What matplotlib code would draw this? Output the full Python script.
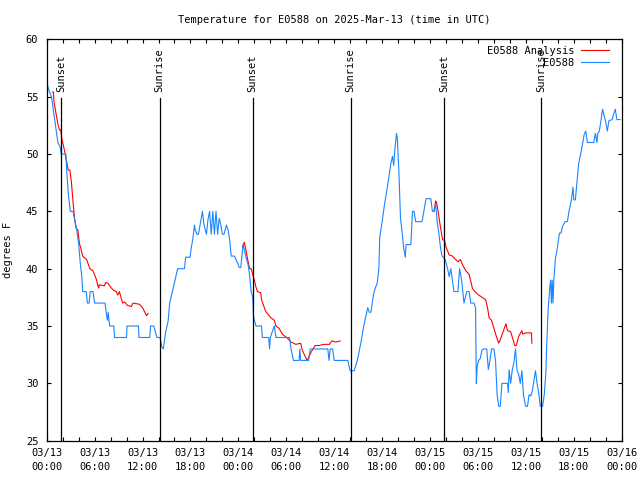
import numpy as np
import matplotlib
matplotlib.use("Agg")
import matplotlib.pyplot as plt
import matplotlib.transforms as mtransforms
from matplotlib.ticker import MultipleLocator

# hours since 2025-03-13 00:00 UTC
blue_h = [0.1, 0.3, 0.6, 0.8, 1.0, 1.2, 1.4, 1.7, 1.8, 2.4, 2.5, 2.7, 2.95, 3.3, 3.5, 3.75,
          4.0, 4.2, 4.4, 4.5, 4.95, 5.1, 5.3, 5.45, 5.8, 6.0, 7.3, 7.45, 7.6, 7.7, 7.8, 7.9,
          8.4, 8.5, 10.0, 10.05, 11.5, 11.55, 12.9, 13.0, 13.4, 13.6, 13.8, 14.2, 14.4, 14.6,
          14.9, 15.2, 15.4, 15.8, 16.1, 16.4, 17.25, 17.4, 17.95, 18.1, 18.3, 18.5, 18.6, 18.8,
          19.0, 19.2, 19.5, 19.7, 20.0, 20.2, 20.4, 20.6, 20.8, 21.0, 21.2, 21.4, 21.6, 21.8,
          22.0, 22.2, 22.5, 22.7, 22.9, 23.1, 23.5, 23.7, 23.9, 24.1, 24.3, 24.5, 24.6, 24.95,
          25.2, 25.4, 25.6, 25.8, 25.9, 26.2, 26.9, 27.0, 27.8, 27.9, 28.0, 28.3, 28.5, 28.7,
          30.4, 30.6, 30.9, 31.6, 31.7, 31.8, 32.8, 33.0, 35.2, 35.35, 35.5, 35.8, 36.0, 37.7,
          38.0, 38.5, 38.9, 39.3, 39.7, 40.2, 40.4, 40.6, 40.8, 41.0, 41.4, 41.6, 41.7, 42.0,
          42.3, 42.7, 43.1, 43.3, 43.45, 43.6, 43.8, 43.9, 44.1, 44.3, 44.5, 44.7, 44.9, 45.0,
          45.6, 45.8, 46.0, 46.2, 47.0, 47.25, 47.5, 48.1, 48.3, 48.5, 48.7, 48.9, 49.1, 49.3,
          49.5, 49.9, 50.2, 50.4, 50.6, 50.8, 51.0, 51.5, 51.7, 51.96, 52.25, 52.6, 52.9, 53.1,
          53.5, 53.7, 53.8, 53.9, 54.1, 54.3, 54.5, 54.7, 55.1, 55.3, 55.5, 55.7, 56.0, 56.2,
          56.4, 56.6, 56.8, 57.0, 57.7, 57.8, 57.9, 58.1, 58.3, 58.5, 58.7, 58.9, 59.1, 59.3,
          59.5, 59.7, 59.96, 60.2, 60.4, 60.6, 60.8, 61.2, 61.4, 61.6, 61.8, 62.1, 62.3, 62.5,
          62.6, 62.8, 63.0, 63.1, 63.2, 63.3, 63.4, 63.5, 63.7, 63.9, 64.2, 64.4, 64.6, 64.9,
          65.2, 65.4, 65.7, 65.9, 66.0, 66.2, 66.4, 66.6, 66.8, 67.0, 67.3, 67.5, 67.7, 68.5,
          68.7, 68.9, 69.0, 69.2, 69.4, 69.6, 69.96, 70.2, 70.4, 70.8, 71.0, 71.2, 71.4, 71.8]
blue_v = [56, 55.5, 55, 54, 53, 52, 51, 50.6, 50, 50, 48.6, 46.6, 45, 45, 44.3, 43.4,
          42.2, 40.5, 39.3, 38, 38, 37, 37, 38, 38, 37, 37, 36.2, 35.5, 36.2, 35.5, 35,
          35, 34, 34, 35, 35, 34, 34, 35, 35, 34.5, 34, 34, 33.2, 33.0,
          34.5, 35.4, 37, 38.2, 39.1, 40, 40, 41, 41, 41.8, 42.6, 43.8, 43.4, 43,
          43, 43.8, 45, 43.8, 43, 44.3, 45, 43, 45, 43, 45, 43, 44.4, 43.8,
          43, 43, 43.8, 43.4, 42.6, 41.1, 41.1, 40.8, 40.5, 40.1, 40.1, 41.5, 42.1, 41.0,
          40.4, 39.5, 38, 37.5, 35.8, 35, 35, 34, 34, 33, 34, 34.6, 35, 34,
          34, 33, 32, 32, 33, 32, 32, 33, 33, 32, 33, 33, 32, 32,
          31.1, 31.1, 32, 33.4, 35, 36.6, 36.2, 36.2, 37.2, 38, 38.8, 40.1, 42.7, 44.1,
          45.6, 47.3, 49.2, 49.8, 49.0, 50.4, 51.8, 51.4, 48.5, 44.4, 43.2, 41.8, 41.0, 42.1,
          42.1, 45, 45, 44.1, 44.1, 45.1, 46.1, 46.1, 45, 45, 45.6, 44.1, 43.1, 41.9,
          41.1, 40.8, 40, 39.3, 40, 39, 38, 38, 40, 39, 37, 38, 38, 37,
          37, 36.6, 30.0, 31.5, 32, 32.2, 32.9, 33, 33, 31.2, 32, 33, 33, 32,
          29, 28, 28, 30, 30, 29.2, 31.2, 30, 31.2, 31.8, 33, 31.1, 30.8, 30,
          31.1, 29, 28, 28, 29, 28.9, 29.3, 31.1, 30, 29.2, 28, 28, 29, 30.9,
          33.2, 36.6, 38.4, 39, 37, 39, 37, 39, 40.9, 41.6, 43.1, 43.1, 43.7, 44.1,
          44.1, 45, 46, 47.1, 46, 46, 47.6, 49.1, 49.8, 50.5, 51.7, 52, 51, 51,
          51.8, 51, 51.8, 52, 52.9, 53.9, 52.9, 52, 52.9, 53, 53.5, 53.9, 53, 53]

red_h = [0.7, 0.85, 0.9, 1.2, 1.4, 1.6, 1.75, 1.9, 2.2, 2.5, 2.7, 2.9, 3.1, 3.3, 3.5, 3.7,
         3.9, 4.1, 4.3, 4.5, 5.0, 5.4, 5.8, 6.2, 6.5, 6.6, 7.2, 7.4, 7.7, 8.1, 8.4, 8.7,
         8.9, 9.1, 9.5, 9.75, 10.1, 10.6, 10.8, 11.6, 12.0, 12.5, 12.7, 18.0,
         24.5, 24.75, 24.95, 25.2, 25.4, 25.6, 25.8, 26.0, 26.2, 26.4, 26.8, 26.9, 27.4, 27.6,
         28.1, 28.5, 28.7, 29.1, 29.5, 30.2, 30.6, 31.2, 31.8, 32.0, 32.6, 33.1, 33.6, 34.1,
         34.7, 35.4, 35.7, 36.2, 36.75, 42.0,
         48.5, 48.7, 48.8, 48.99, 49.2, 49.5, 49.6, 49.8, 50.0, 50.4, 50.8, 51.2, 51.5, 51.8,
         52.1, 52.5, 52.9, 53.3, 53.6, 54.1, 54.75, 54.96, 55.2, 55.4, 55.7, 56.0, 56.3, 56.6,
         56.8, 57.2, 57.5, 57.7, 58.1, 58.6, 58.8, 59.1, 59.5, 59.6, 59.96, 60.7, 60.75]
red_v = [55.4, 55.4, 54.6, 53.4, 52.6, 52.1, 52.1, 51.3, 50.4, 49.3, 48.6, 48.6, 47.5, 45.8, 44.3, 43.5,
         43.4, 42.2, 41.7, 41.1, 40.8, 40.0, 39.8, 39.1, 38.3, 38.6, 38.5, 38.8, 38.7, 38.3, 38.1, 38.0,
         37.7, 38, 37.0, 37.1, 36.8, 36.7, 37.0, 36.9, 36.6, 35.9, 36.1, np.nan,
         41.9, 42.3, 41.6, 40.7, 40.0, 40.0, 39.5, 39.0, 38.4, 38.0, 37.9, 37.3, 36.3, 36.1,
         35.7, 35.5, 35.0, 34.8, 34.3, 33.9, 33.6, 33.4, 33.5, 32.9, 32.0, 32.7, 33.3, 33.3,
         33.4, 33.4, 33.7, 33.6, 33.7, np.nan,
         45.0, 45.9, 45.8, 45.1, 44.1, 42.8, 42.5, 42.5, 41.9, 41.2, 41.1, 40.8, 40.6, 40.8,
         40.3, 39.8, 39.5, 38.3, 38.0, 37.7, 37.4, 37.3, 36.6, 35.7, 35.5, 34.8, 34.1, 33.5,
         33.8, 34.6, 35.2, 34.6, 34.5, 33.3, 33.3, 34.1, 34.6, 34.3, 34.4, 34.4, 33.5]

sun_h = [1.8, 14.15, 25.78, 38.05, 49.77, 61.95]
sun_lbl = ["Sunset", "Sunrise", "Sunset", "Sunrise", "Sunset", "Sunrise"]

tick_h = [0, 6, 12, 18, 24, 30, 36, 42, 48, 54, 60, 66, 72]
tick_lbl = ["03/13\n00:00", "03/13\n06:00", "03/13\n12:00", "03/13\n18:00",
            "03/14\n00:00", "03/14\n06:00", "03/14\n12:00", "03/14\n18:00",
            "03/15\n00:00", "03/15\n06:00", "03/15\n12:00", "03/15\n18:00",
            "03/16\n00:00"]

plt.rcParams["font.family"] = "DejaVu Sans Mono"
plt.rcParams["font.size"] = 7.5

fig = plt.figure(figsize=(6.4, 4.8), dpi=100)
ax = fig.add_axes([46.7 / 640, 1 - 440.7 / 480, 575 / 640, 401.4 / 480])

ax.plot(red_h, red_v, color="#ff0000", lw=0.8, label="E0588 Analysis")
ax.plot(blue_h, blue_v, color="#1a85ff", lw=0.8, label="E0588")

trans = mtransforms.blended_transform_factory(ax.transData, ax.transAxes)
for h, lbl in zip(sun_h, sun_lbl):
    ax.axvline(h, ymin=0, ymax=0.853, color="black", lw=0.9)
    ax.text(h, 0.868, lbl, transform=trans, rotation=90, ha="center", va="bottom")

ax.set_xlim(0, 72)
ax.set_ylim(25, 60)
ax.set_xticks(tick_h)
ax.set_xticklabels(tick_lbl)
ax.xaxis.set_minor_locator(MultipleLocator(2))
ax.yaxis.set_major_locator(MultipleLocator(5))
for lab in ax.get_xticklabels():
    lab.set_linespacing(1.55)

ax.tick_params(which="both", direction="in", top=True, right=True, length=3, width=0.8)
ax.tick_params(axis="x", pad=5)
ax.tick_params(axis="y", pad=6)
for s in ax.spines.values():
    s.set_linewidth(0.9)

ax.set_ylabel("degrees F")
ax.yaxis.set_label_coords(-0.058, 0.475)

fig.text(334 / 640, 1 - 20 / 480, "Temperature for E0588 on 2025-Mar-13 (time in UTC)",
         ha="center", va="center")

ax.legend(loc="upper right", bbox_to_anchor=(0.988, 1.0), frameon=False, markerfirst=False,
          handlelength=2.6, handletextpad=0.7, labelspacing=0.2, borderaxespad=0.3,
          borderpad=0.3)

fig.savefig("out.png", dpi=100)
